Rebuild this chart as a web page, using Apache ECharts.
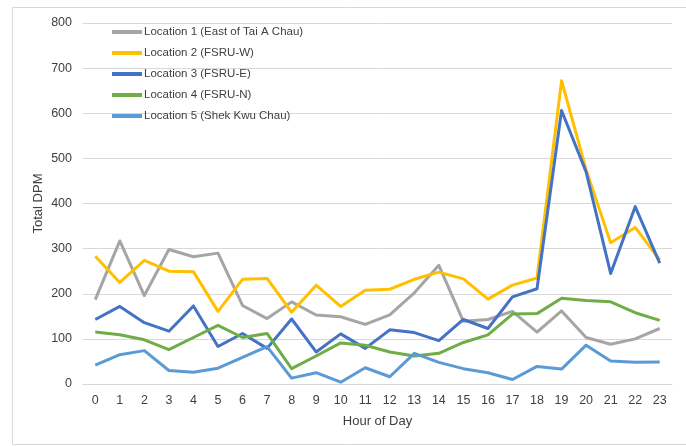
<!DOCTYPE html>
<html lang="en">
<head>
    <meta charset="UTF-8">
    <title>Total DPM by Hour</title>
    <script src="https://cdn.jsdelivr.net/npm/echarts@6/dist/echarts.min.js"></script>
</head>
<style>
html,body{margin: 0;padding: 0;background: #fff}
#chartBox{width: 686px;height: 446px}
</style>
<body>
    <div id="chartBox"></div>
</body>
<script>
// hours on the x axis
const hours = ['0','1','2','3','4','5','6','7','8','9','10','11','12','13','14','15','16','17','18','19','20','21','22','23'];

// values
const loc1 = [187,317,196,298,282,290,174,145,182,153,149,132,153,202,263,139,143,161,115,162,103,88,100,123];
const loc2 = [283,225,274,250,249,161,232,234,159,219,172,208,210,232,248,233,188,219,235,672,475,313,347,275];
const loc3 = [143,172,136,117,173,83,112,79,144,71,111,79,120,114,96,143,123,193,211,606,470,245,393,268];
const loc4 = [115,109,98,76,103,130,103,112,34,62,91,86,71,62,68,92,109,155,156,190,185,182,158,141];
const loc5 = [42,65,74,30,26,35,59,83,13,25,4,36,16,68,48,34,25,10,39,33,86,51,48,49];

const seriesNames = ['Location 1 (East of Tai A Chau)','Location 2 (FSRU-W)','Location 3 (FSRU-E)','Location 4 (FSRU-N)','Location 5 (Shek Kwu Chau)'];
const seriesColors = ['#A5A5A5','#FFC000','#4472C4','#70AD47','#5B9BD5'];

const allData = [loc1, loc2, loc3, loc4, loc5];

let chartObj = echarts.init(document.getElementById('chartBox'));

const option = {
    animation: false,
    color: seriesColors,
    textStyle: {fontFamily: 'Liberation Sans, Arial, sans-serif'},
    graphic: [
        {
            type: 'rect',
            shape: {x: 12.5, y: 7.5, width: 700, height: 437},
            style: {fill: 'none', stroke: '#D9D9D9', lineWidth: 1},
            silent: true
        }
    ],
    grid: {left: 83, right: 14, top: 23, bottom: 62},
    legend: {
        orient: 'vertical',
        left: 107,
        top: 20,
        itemWidth: 30,
        itemHeight: 4,
        itemGap: 7,
        icon: 'rect',
        textStyle: {fontSize: 11.5, color: '#404040', lineHeight: 14, padding: [0,0,0,-3]},
        data: seriesNames
    },
    xAxis: {
        type: 'category',
        data: hours,
        name: 'Hour of Day',
        nameLocation: 'middle',
        nameGap: 31,
        nameMoveOverlap: false,
        nameTextStyle: {fontSize: 13, color: '#404040'},
        axisLine: {lineStyle: {color: '#D9D9D9', width: 1}},
        axisTick: {show: false},
        axisLabel: {fontSize: 12.5, color: '#404040', margin: 10}
    },
    yAxis: {
        type: 'value',
        min: 0,
        max: 800,
        interval: 100,
        name: 'Total DPM',
        nameLocation: 'middle',
        nameGap: 38,
        nameMoveOverlap: false,
        nameTextStyle: {fontSize: 13, color: '#404040'},
        axisLine: {show: false},
        axisTick: {show: false},
        axisLabel: {fontSize: 12.5, color: '#404040', margin: 11},
        splitLine: {lineStyle: {color: '#D9D9D9', width: 1}}
    },
    series: allData.map((d, i) => ({
        type: 'line',
        name: seriesNames[i],
        data: d,
        symbol: 'none',
        lineStyle: {width: 3, color: seriesColors[i], join: 'round'}
    }))
};

chartObj.setOption(option);
</script>
</html>
